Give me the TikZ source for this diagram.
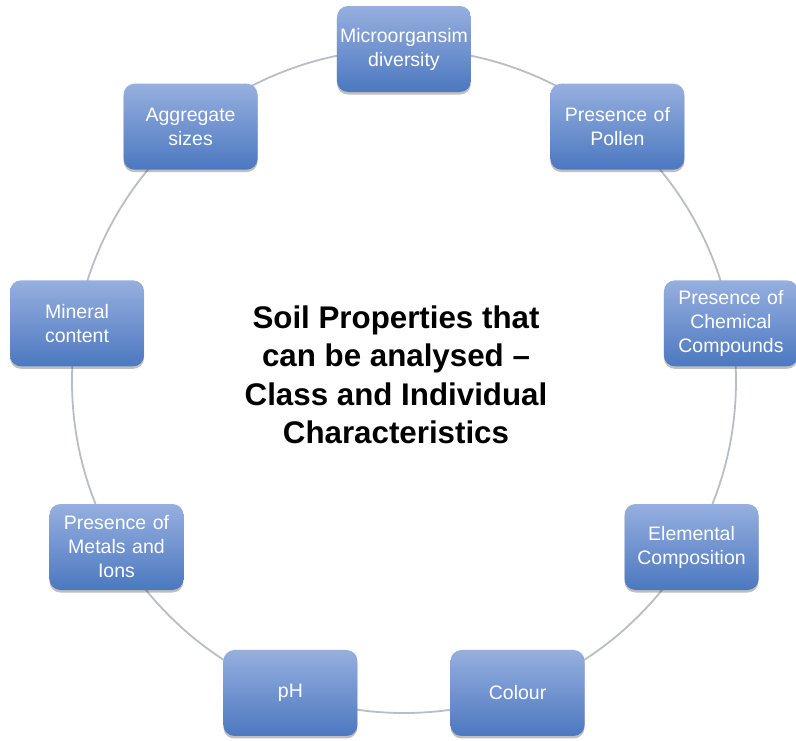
\documentclass[tikz,border=0pt]{standalone}
\usepackage{fontspec}
\setmainfont{Liberation Sans}
\usepackage{tikz}
\usetikzlibrary{positioning, shadows}

\begin{document}
\begin{tikzpicture}[x=1pt, y=1pt,
    propbox/.style={rounded corners=11pt, minimum width=134pt, minimum height=86pt,
        text width=130pt, align=center, inner sep=2pt,
        top color=boxtop, bottom color=boxbottom, text=white,
        font=\fontsize{19.5}{24}\selectfont,
        drop shadow={shadow xshift=0pt, shadow yshift=-2.5pt, opacity=0.25, fill=black}}]

    % Define colors
    \definecolor{boxtop}{RGB}{150, 175, 223}
    \definecolor{boxbottom}{RGB}{76, 120, 192}
    \definecolor{ringgray}{RGB}{185, 189, 196}

    % Page frame
    \useasboundingbox (-404, -359) rectangle (392, 381);

    % Ring behind the boxes
    \coordinate (hub) at (0, 0);
    \draw[ringgray, line width=1.8pt] (hub) circle (332pt);

    % Title in the middle
    \node[font=\bfseries\fontsize{31.3}{38.5}\selectfont, align=center] (title) at (-8, 6)
        {Soil Properties that\\can be analysed --\\Class and Individual\\Characteristics};

    % Property boxes, clockwise from the top
    \node[propbox] (micro) at (90:332pt) {Microorgansim\\diversity};
    \node[propbox] (pollen) at (50:332pt) {Presence of\\Pollen};
    \node[propbox] (chemical) at (10:332pt) {Presence of\\Chemical\\Compounds};
    \node[propbox] (elemental) at (-30:332pt) {Elemental\\Composition};
    \node[propbox] (colour) at (-70:332pt) {Colour};
    \node[propbox] (ph) at (-110:332pt) {pH};
    \node[propbox] (metals) at (-150:332pt) {Presence of\\Metals and\\Ions};
    \node[propbox] (mineral) at (170:332pt) {Mineral\\content};
    \node[propbox] (aggregate) at (130:332pt) {Aggregate\\sizes};

\end{tikzpicture}
\end{document}
